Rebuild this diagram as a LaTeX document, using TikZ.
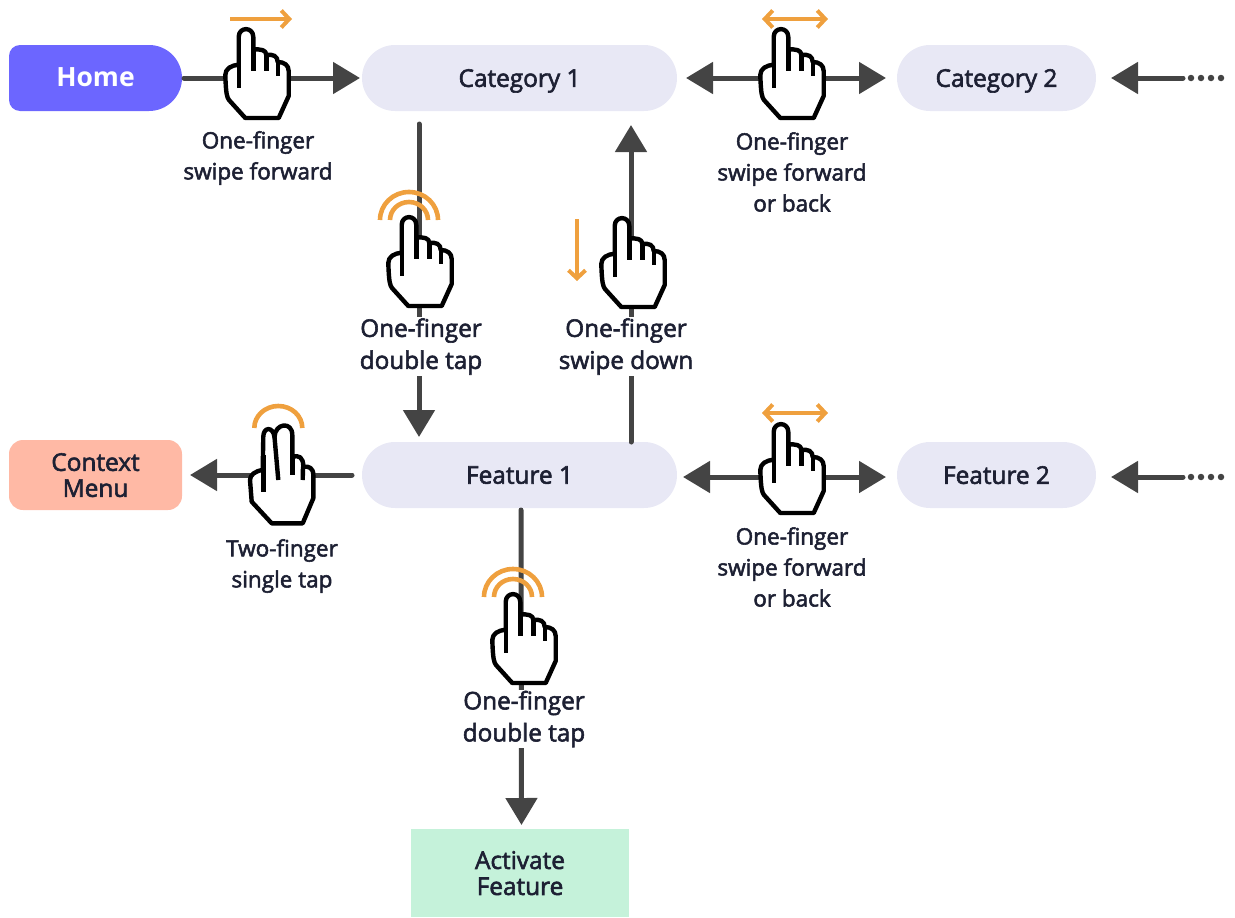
\documentclass[tikz,border=0pt]{standalone}
\usepackage{fontspec}
\setmainfont{Open Sans}
\newfontfamily\boxfont{Open Sans}[FakeBold=2.4]
\usetikzlibrary{calc,arrows.meta}
\definecolor{ink}{HTML}{1D2033}
\definecolor{flowgray}{HTML}{444444}
\definecolor{swipeorange}{HTML}{EFA03E}
\definecolor{homeblue}{HTML}{6C66FF}
\definecolor{itemgray}{HTML}{E8E8F5}
\definecolor{menupeach}{HTML}{FFB9A5}
\definecolor{activegreen}{HTML}{C5F2DA}
\tikzset{
  item/.style={fill=itemgray,rounded corners=33pt,minimum height=66pt,inner sep=0pt,outer sep=0pt,text=ink,text depth=0pt,font=\boxfont\fontsize{24.4}{26}\selectfont,align=center},
  gesture/.style={inner sep=1pt,outer sep=0pt,text=ink,align=center,font=\boxfont\fontsize{22.5}{31}\selectfont},
  gesturebig/.style={gesture,fill=white,font=\boxfont\fontsize{24.3}{32}\selectfont},
  flow/.style={draw=flowgray,line width=5pt,line cap=round},
  swipe/.style={draw=swipeorange,line width=4pt,arrows={-Straight Barb[length=8pt,width=17pt,line width=4pt]}},
  swipeboth/.style={swipe,arrows={Straight Barb[length=8pt,width=17pt,line width=4pt]-Straight Barb[length=8pt,width=17pt,line width=4pt]}},
  tapring/.style={draw=swipeorange,line width=4.6pt},
  handline/.style={draw=black,fill=white,line width=4.4pt,line join=round},
  hand/.pic={
    \path[handline] (-7.3,36) -- (-7.3,8) .. controls (-7.3,-2.5) and (7.3,-2.5) .. (7.3,8) -- (7.3,20.5)
      .. controls (15,20) and (20.3,21) .. (20.3,26) .. controls (27,25) and (31.7,27) .. (31.7,33)
      .. controls (38,33) and (42.7,36) .. (42.7,42) -- (42.7,67) -- (32.7,89) -- (-0.7,89) -- (-17,71)
      .. controls (-19,68) and (-20,66) .. (-20.7,46) .. controls (-20.7,40) and (-15,36) .. (-7.3,36) -- cycle;
    \draw[handline,fill=none] (-7.3,36) -- (-7.3,59);
    \draw[handline,fill=none] (7.3,20.5) -- (7.3,41.7);
    \draw[handline,fill=none] (20.3,26) -- (20.3,42.3);
    \draw[handline,fill=none] (31.7,33) -- (31.7,47.3);
  },
  taphand/.pic={
    \draw[tapring] (29,3) arc[start angle=0,end angle=-180,x radius=29,y radius=28];
    \draw[tapring] (19,3) arc[start angle=0,end angle=-180,x radius=19,y radius=18];
    \pic at (0,0) {hand};
  },
  twohand/.pic={
    \draw[tapring] (72.3,33) arc[start angle=0,end angle=-180,x radius=24,y radius=22];
    \path[handline] (32.7,75) -- (33.3,41.7) .. controls (33.3,32) and (43,31) .. (44.5,42)
      .. controls (45,28) and (62.3,26) .. (62.3,40) -- (62.3,61.7) .. controls (69,60) and (73.3,62) .. (73.3,71.7)
      .. controls (79,71) and (83.3,73) .. (83.3,80) -- (83.3,103.3) -- (72.7,128.3) -- (41.7,128.3) -- (21.7,106.7)
      -- (20,85) .. controls (20,80) and (25,76) .. (32.7,75) -- cycle;
    \draw[handline,fill=none] (33.3,60) -- (33.3,96.7);
    \draw[handline,fill=none] (44.5,42) -- (48.3,85);
    \draw[handline,fill=none] (62.3,61.7) -- (62.3,80);
    \draw[handline,fill=none] (73,71.7) -- (72.7,85);
  },
}
\begin{document}
\begin{tikzpicture}[x=1pt,y=-1pt,>={Triangle[length=27pt,width=31pt]}]
  \useasboundingbox (0,0) rectangle (1235,918);

  % boxes
  \node[item,minimum width=315pt] (cat1) at (519.5,78) {Category 1};
  \node[item,minimum width=199pt,right of=cat1,node distance=477pt] (cat2) {Category 2};
  \node[item,minimum width=315pt,below of=cat1,node distance=397pt] (feat1) {Feature 1};
  \node[item,minimum width=199pt,below of=cat2,node distance=397pt] (feat2) {Feature 2};
  \fill[homeblue,rounded corners=33pt] (100,45) -- (182,45) -- (182,111) -- (100,111) [rounded corners=11pt] -- (9,111) -- (9,45) -- cycle;
  \node[minimum width=173pt,minimum height=66pt,inner sep=0pt,outer sep=0pt,text=white,font=\fontsize{26.5}{28}\selectfont\bfseries] (home) at (95.5,77) {Home};
  \node[item,fill=menupeach,rounded corners=14pt,minimum width=173pt,minimum height=70pt] (menu) at (95.5,475) {Context\\Menu};
  \node[item,fill=activegreen,rounded corners=0pt,minimum width=218pt,minimum height=88pt] (active) at (520,873) {Activate\\Feature};

  \coordinate (cat_end) at (1183,78);
  \coordinate (cat_dots) at (1222,78);
  \coordinate (feat_end) at (1183,477);
  \coordinate (feat_dots) at (1222,477);

  %%%%

  \draw[flow,->,shorten <=2pt,shorten >=2pt] (home.east |- cat1) -- (cat1);
  \draw[flow,<->,shorten <=9pt,shorten >=11pt] (cat1) -- (cat2);
  \draw[flow,<-,shorten >=0pt,shorten <=15pt] (cat2) -- (cat_end);
  \draw[draw=flowgray,line width=6.5pt,line cap=round,dash pattern=on 0pt off 10pt] (cat_end)++(8,0) -- (cat_dots);

  \draw[flow,->,shorten <=13pt,shorten >=5pt] ([xshift=-100.5pt]cat1.south) -- ([xshift=-100.5pt]feat1.north);
  \draw[flow,->,shorten >=14pt] ([xshift=111.5pt]feat1.north) -- ([xshift=111.5pt]cat1.south);

  \draw[flow,->,shorten <=10pt,shorten >=8pt] (feat1.west |- menu) -- (menu);
  \draw[flow,<->,shorten <=6pt,shorten >=11pt] ([yshift=-2pt]feat1.east) -- ([yshift=-2pt]feat2.west);
  \draw[flow,<-,shorten <=15pt] (feat2.east |- feat_end) -- (feat_end);
  \draw[draw=flowgray,line width=6.5pt,line cap=round,dash pattern=on 0pt off 10pt] (feat_end)++(8,0) -- (feat_dots);

  \draw[flow,->,shorten <=2pt,shorten >=4pt] ([xshift=1.5pt]feat1.south) -- ([xshift=1.5pt]active.north);

  %%%%

  \node[gesture] (lab_home) at (258,158) {One-finger\\swipe forward};
  \node[gesture] (lab_cat) at (792,172) {One-finger\\swipe forward\\or back};
  \node[gesture] (lab_feat) at (792,567) {One-finger\\swipe forward\\or back};
  \node[gesture] (lab_menu) at (282,566) {Two-finger\\single tap};
  \node[gesturebig] (lab_open) at (421,346.5) {One-finger\\double tap};
  \node[gesturebig] (lab_back) at (626,346.5) {One-finger\\swipe down};
  \node[gesturebig] (lab_active) at (524,719) {One-finger\\double tap};

  %%%%

  \pic at (246,29) {hand};
  \pic at (781,29) {hand};
  \pic at (781,424) {hand};
  \pic at (622,218) {hand};
  \pic at (409,217) {taphand};
  \pic at (513,594) {taphand};
  \pic at (230,395) {twohand};

  \coordinate (sw_a) at (230,19);
  \coordinate (sw_b) at (292,19);
  \draw[swipe] (sw_a) -- (sw_b);
  \coordinate (sw_c) at (762,19);
  \coordinate (sw_d) at (828,19);
  \draw[swipeboth] (sw_c) -- (sw_d);
  \coordinate (sw_e) at (762,413);
  \coordinate (sw_f) at (828,413);
  \draw[swipeboth] (sw_e) -- (sw_f);
  \coordinate (sw_g) at (577,219);
  \coordinate (sw_h) at (577,281);
  \draw[swipe] (sw_g) -- (sw_h);
\end{tikzpicture}
\end{document}
